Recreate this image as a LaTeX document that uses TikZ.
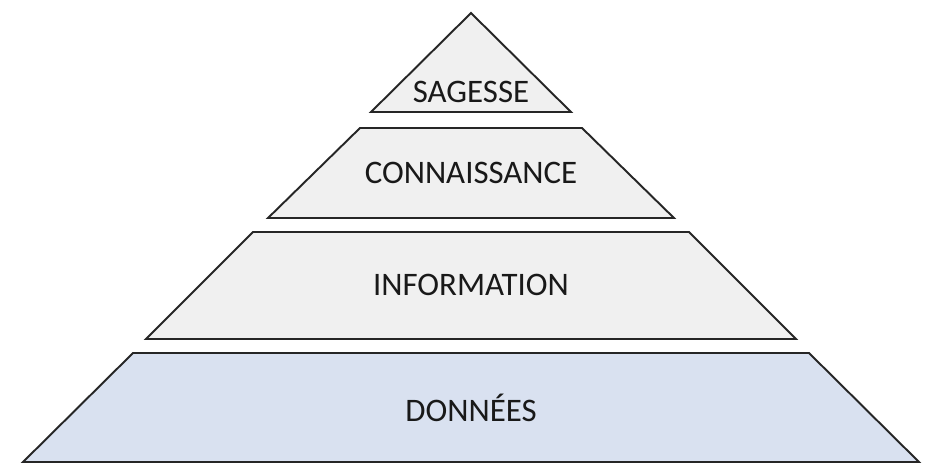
\documentclass[tikz,border=0pt]{standalone}
\usepackage{fontspec}
\setmainfont{Carlito}
\usetikzlibrary{positioning}

\begin{document}
\begin{tikzpicture}[x=0.02cm,y=-0.02cm]
     \tikzstyle{layer}=[draw=black!85,line width=1.1pt,line join=miter,fill=gray!12]
     \tikzstyle{base}=[layer,fill={rgb,255:red,217;green,225;blue,240}]
     \tikzstyle{label}=[font=\fontsize{18.7}{22}\selectfont,text=black!90]

     \useasboundingbox (0,0) rectangle (943,474);

     \draw[layer] (471,13) -- (571,112) -- (371,112) -- cycle;
     \draw[layer] (360,128) -- (582,128) -- (674,218) -- (268,218) -- cycle;
     \draw[layer] (253,232) -- (689,232) -- (796,339) -- (146,339) -- cycle;
     \draw[base] (133,353) -- (809,353) -- (919,462) -- (23,462) -- cycle;

     \node[label] (sagesse) at (471,92) {SAGESSE};
     \node[label] (connaissance) at (471,173) {CONNAISSANCE};
     \node[label] (information) at (471,285) {INFORMATION};
     \node[label] (donnees) at (471,408) {DONNÉES};
\end{tikzpicture}
\end{document}
